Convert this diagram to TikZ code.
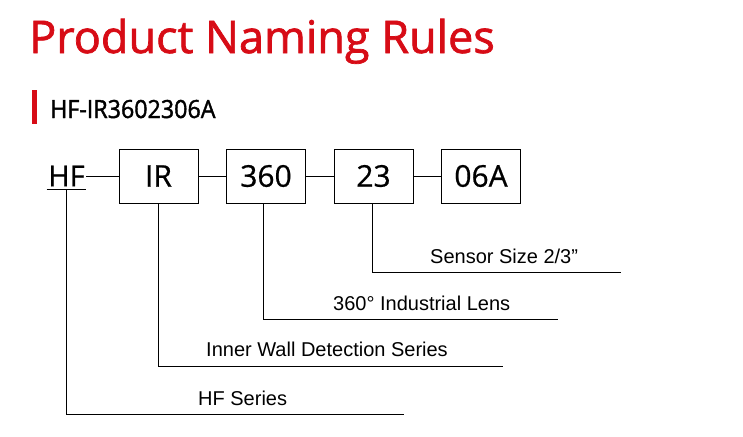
\documentclass[tikz,border=0pt]{standalone}
\usepackage{fontspec}
\setmainfont{Open Sans}
\newfontfamily\headfont[FakeBold=1.6]{Open Sans}
\newfontfamily\labelfont[FakeBold=0.7]{Open Sans}
\newfontfamily\descfont{Liberation Sans}
\usetikzlibrary{positioning}
\definecolor{titlered}{RGB}{215,12,22}

\begin{document}
\begin{tikzpicture}[x=1pt, y=-1pt,
    codebox/.style={draw, line width=1pt, minimum width=79pt, minimum height=54pt, inner sep=0pt, font=\labelfont\fontsize{30}{30}\selectfont},
    desc/.style={anchor=base west, inner sep=0pt, font=\descfont\fontsize{20}{20}\selectfont},
    lead/.style={line width=0.9pt}]
  \useasboundingbox (0,0) rectangle (743,436);

  \node[anchor=base west, inner sep=0pt, text=titlered, font=\headfont\fontsize{45}{45}\selectfont] (title) at (29,53) {Product Naming Rules};
  \fill[titlered] (32,90) rectangle (37,124);
  \node[anchor=base west, inner sep=0pt, font=\headfont\fontsize{25}{25}\selectfont] (code) at (50,118) {\scalebox{0.93}[1]{HF-IR3602306A}};

  \node[inner xsep=1.5pt, inner ysep=3pt, font=\labelfont\fontsize{29}{29}\selectfont] (hf) at (66.5,176) {HF};
  \node[codebox] (ir) at (158.5,176) {IR};
  \node[codebox, right=27.5pt of ir] (b360) {360};
  \node[codebox, right=27.5pt of b360] (b23) {23};
  \node[codebox, right=27.5pt of b23] (b06a) {06A};

  \draw[lead] (hf.south west) -- (hf.south east);
  \draw[lead] (hf.east) -- (ir.west);
  \draw[lead] (ir.east) -- (b360.west);
  \draw[lead] (b360.east) -- (b23.west);
  \draw[lead] (b23.east) -- (b06a.west);

  \node[desc] (sensor) at (430,263) {Sensor Size 2/3”};
  \node[desc] (lens) at (333,310) {360° Industrial Lens};
  \node[desc] (wall) at (206,356) {Inner Wall Detection Series};
  \node[desc] (series) at (198,405) {HF Series};

  \coordinate (sensorend) at (621,272);
  \coordinate (lensend) at (558,319);
  \coordinate (wallend) at (503,366);
  \coordinate (seriesend) at (404,414);

  \draw[lead] ([xshift=-1.5pt]b23.south) |- (sensorend);
  \draw[lead] ([xshift=-3pt]b360.south) |- (lensend);
  \draw[lead] (ir.south) |- (wallend);
  \draw[lead] (hf.south) |- (seriesend);
\end{tikzpicture}
\end{document}
